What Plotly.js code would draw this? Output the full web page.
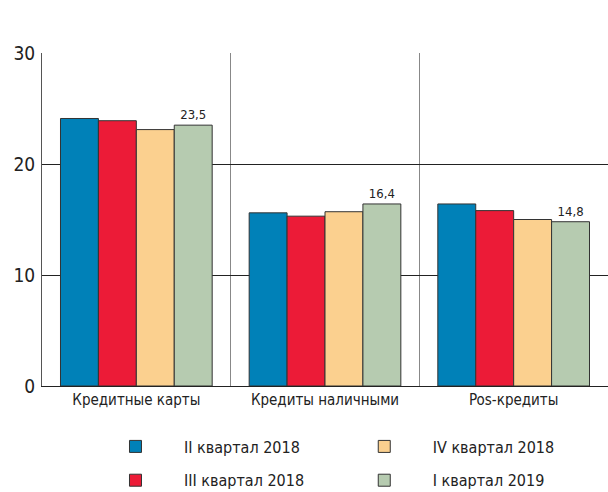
<!DOCTYPE html>
<html>
<head>
<meta charset="utf-8">
<script src="https://cdn.plot.ly/plotly-3.0.1.min.js"></script>
<style>
  body { margin: 0; background: #fff; }
  #plot { width: 608px; height: 492px; }
</style>
</head>
<body>
<div id="plot"></div>
<script>
// categories and quarterly values
var categories = ["Кредитные карты", "Кредиты наличными", "Pos-кредиты"];
var q2_2018 = [24.1, 15.6, 16.4];
var q3_2018 = [23.9, 15.3, 15.8];
var q4_2018 = [23.1, 15.7, 15.0];
var q1_2019 = [23.5, 16.4, 14.8];

// condensed face, closest to the original narrow typeface
var FONT = "'DejaVu Sans Condensed', 'DejaVu Sans', sans-serif";
var outline = { color: "#333333", width: 1 };

var trace1 = {
  x: categories, y: q2_2018, type: "bar", name: "II квартал 2018",
  marker: { color: "#0081b8", line: outline },
  legend: "legend", legendgroup: "a"
};
var trace2 = {
  x: categories, y: q3_2018, type: "bar", name: "III квартал 2018",
  marker: { color: "#ec1b37", line: outline },
  legend: "legend", legendgroup: "b"
};
var trace3 = {
  x: categories, y: q4_2018, type: "bar", name: "IV квартал 2018",
  marker: { color: "#fbd08f", line: outline },
  legend: "legend2", legendgroup: "c"
};
var trace4 = {
  x: categories, y: q1_2019, type: "bar", name: "I квартал 2019",
  marker: { color: "#b6cbb0", line: outline },
  texttemplate: "%{y:.1f}", textposition: "outside",
  textfont: { family: FONT, size: 13, color: "#222" },
  cliponaxis: false,
  legend: "legend2", legendgroup: "d"
};

var data = [trace1, trace2, trace3, trace4];

// two legend columns, two rows each
var legendStyle = {
  font: { family: FONT, size: 16, color: "#222" },
  itemwidth: 87,
  tracegroupgap: 10,
  yref: "container",
  y: 0.127,
  yanchor: "top",
  xanchor: "left",
  bgcolor: "rgba(0,0,0,0)"
};

var layout = {
  width: 608,
  height: 492,
  margin: { l: 42, r: 0, t: 53, b: 106, autoexpand: false },
  paper_bgcolor: "#fff",
  plot_bgcolor: "#fff",
  separators: ", ",
  barmode: "group",
  bargap: 0.196,
  bargroupgap: 0,
  font: { family: FONT, color: "#222" },
  showlegend: true,
  xaxis: {
    type: "category",
    tickson: "boundaries",
    showgrid: true,
    gridcolor: "#888888",
    gridwidth: 1,
    ticks: "",
    showline: true,
    linecolor: "#222",
    linewidth: 1,
    tickfont: { family: FONT, size: 15, color: "#222" }
  },
  yaxis: {
    range: [0, 30],
    tickvals: [0, 10, 20, 30],
    showgrid: true,
    gridcolor: "#222",
    gridwidth: 1,
    zeroline: false,
    showline: true,
    linecolor: "#555",
    linewidth: 1,
    ticks: "",
    ticklabelstandoff: 2,
    tickfont: { family: FONT, size: 19, color: "#222" }
  },
  legend: Object.assign({ x: 0.0795 }, legendStyle),
  legend2: Object.assign({ x: 0.519 }, legendStyle)
};

Plotly.newPlot("plot", data, layout, { displayModeBar: false });
</script>
</body>
</html>
